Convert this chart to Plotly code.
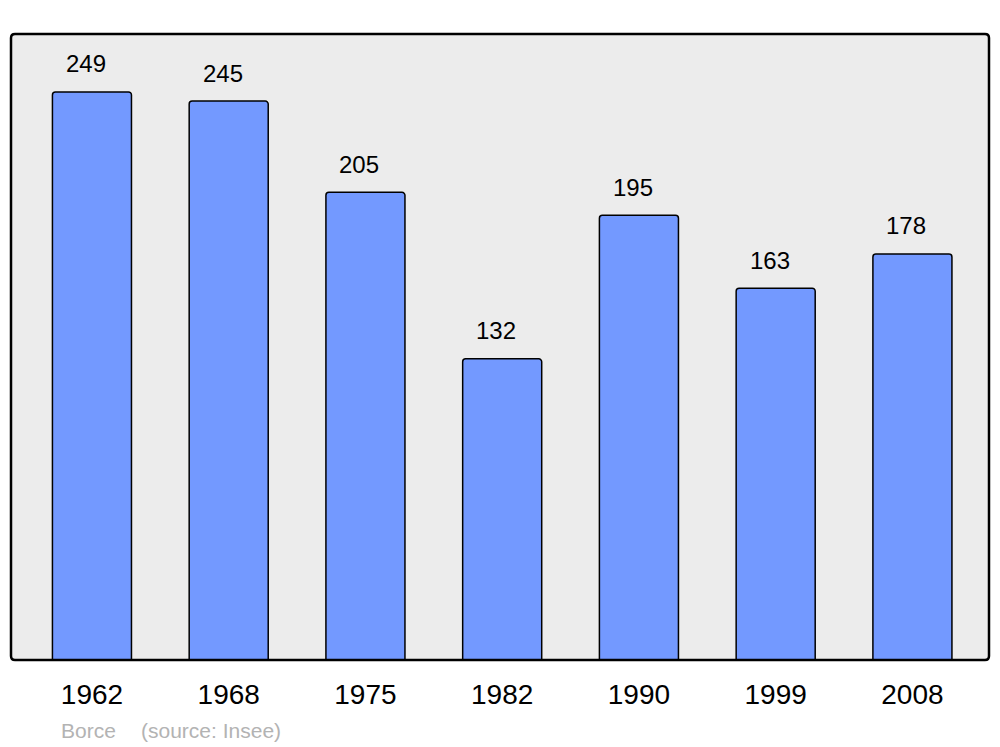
import plotly.graph_objects as go

years = ["1962", "1968", "1975", "1982", "1990", "1999", "2008"]
population = [249, 245, 205, 132, 195, 163, 178]
commune = "Borce"
source = "(source: Insee)"

fig = go.Figure()
fig.add_trace(go.Bar(
    x=years, y=population,
    width=0.578,
    marker=dict(color="#7399ff", line=dict(color="black", width=1.5), cornerradius=3),
    hoverinfo="skip",
))

for i, v in enumerate(population):
    fig.add_annotation(x=i, y=v, text=str(v), showarrow=False, yanchor="middle",
                       yshift=28, xshift=-6,
                       font=dict(family="Liberation Sans, Arial, sans-serif", size=24, color="black"))

fig.add_annotation(xref="paper", yref="paper", x=(59 - 11) / 978, y=(660 - 730) / 626,
                   xanchor="left", yanchor="middle", text=commune, showarrow=False,
                   font=dict(family="Liberation Sans, Arial, sans-serif", size=21, color="#b3b3b3"))
fig.add_annotation(xref="paper", yref="paper", x=(139 - 11) / 978, y=(660 - 730) / 626,
                   xanchor="left", yanchor="middle", text=source, showarrow=False,
                   font=dict(family="Liberation Sans, Arial, sans-serif", size=21, color="#b3b3b3"))

rx, ry = 4 / 978, 4 / 626
path = (f"M {rx},0 L {1-rx},0 Q 1,0 1,{ry} L 1,{1-ry} Q 1,1 {1-rx},1 "
        f"L {rx},1 Q 0,1 0,{1-ry} L 0,{ry} Q 0,0 {rx},0 Z")
fig.add_shape(type="path", xref="paper", yref="paper", path=path,
              line=dict(color="black", width=2.5), layer="above")

fig.update_layout(
    width=1000, height=747,
    margin=dict(l=11, r=11, t=34, b=87),
    plot_bgcolor="#ececec", paper_bgcolor="white",
    showlegend=False,
    font=dict(family="Liberation Sans, Arial, sans-serif"),
    xaxis=dict(type="category", range=[-0.592, 6.560], showgrid=False, zeroline=False,
               showline=False, ticks="", ticklabelstandoff=15,
               tickfont=dict(size=28, color="black")),
    yaxis=dict(range=[0, 274.4], showgrid=False, zeroline=False, showline=False,
               showticklabels=False, ticks=""),
)

fig.write_html("out.html", config={"displayModeBar": False},
               post_script="document.body.style.margin='0';")
